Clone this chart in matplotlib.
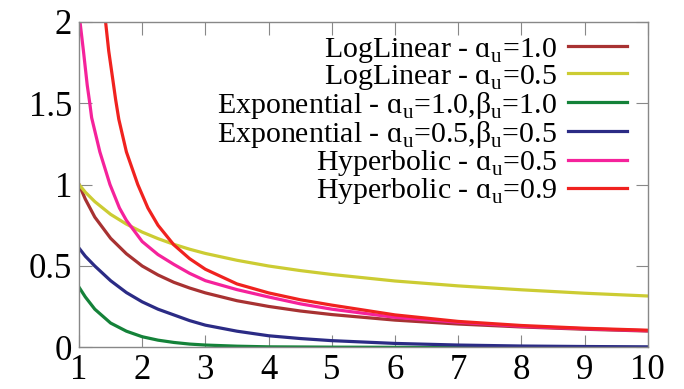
import matplotlib
matplotlib.use("Agg")
import matplotlib.pyplot as plt

# Discount curves read at sample points (x = time step)
x_common = [1, 1.1, 1.25, 1.5, 1.75, 2, 2.25, 2.5, 2.75, 3, 3.5, 4, 4.5, 5, 6, 7, 8, 9, 10]
loglin_10 = [1.0, 0.91, 0.80, 0.67, 0.575, 0.50, 0.445, 0.40, 0.365, 0.335, 0.287, 0.252, 0.224,
             0.202, 0.168, 0.144, 0.126, 0.112, 0.101]
loglin_05 = [1.0, 0.953, 0.895, 0.817, 0.757, 0.708, 0.668, 0.633, 0.603, 0.577, 0.535, 0.50,
             0.472, 0.448, 0.408, 0.378, 0.354, 0.333, 0.316]
expo_10 = [0.37, 0.31, 0.235, 0.15, 0.10, 0.066, 0.045, 0.031, 0.021, 0.015, 0.008, 0.004,
           0.003, 0.002, 0.001, 0.0, 0.0, 0.0, 0.0]
expo_05 = [0.61, 0.56, 0.50, 0.41, 0.337, 0.28, 0.235, 0.20, 0.165, 0.137, 0.10, 0.072,
           0.055, 0.042, 0.025, 0.015, 0.009, 0.006, 0.004]

x_hyp05 = [1.0, 1.07, 1.13, 1.17, 1.2, 1.33, 1.49, 1.64, 1.75, 2, 2.25, 2.5, 2.75, 3, 3.5, 4,
           4.5, 5, 6, 7, 8, 9, 10]
hyp_05 = [2.05, 1.82, 1.61, 1.5, 1.41, 1.2, 1.0, 0.856, 0.78, 0.65, 0.57, 0.51, 0.455, 0.41,
          0.355, 0.31, 0.268, 0.235, 0.185, 0.155, 0.13, 0.115, 0.103]
x_hyp09 = [1.42, 1.47, 1.54, 1.58, 1.63, 1.75, 1.93, 2.09, 2.25, 2.5, 2.75, 3, 3.5, 4, 4.5, 5,
           6, 7, 8, 9, 10]
hyp_09 = [2.0, 1.82, 1.63, 1.52, 1.40, 1.2, 1.0, 0.856, 0.75, 0.63, 0.545, 0.48, 0.39, 0.335,
          0.293, 0.26, 0.20, 0.16, 0.135, 0.118, 0.106]

x_ticks = [1, 2, 3, 4, 5, 6, 7, 8, 9, 10]
y_ticks = [0, 0.5, 1, 1.5, 2]
y_ticklabels = ["0", "0.5", "1", "1.5", "2"]

sub = r"$_{\mathregular{u}}$"
series = [
    (x_common, loglin_10, "LogLinear - ɑ" + sub + "=1.0", "#a83232"),
    (x_common, loglin_05, "LogLinear - ɑ" + sub + "=0.5", "#cccc33"),
    (x_common, expo_10, "Exponential - ɑ" + sub + "=1.0,β" + sub + "=1.0", "#148239"),
    (x_common, expo_05, "Exponential - ɑ" + sub + "=0.5,β" + sub + "=0.5", "#2b2b85"),
    (x_hyp05, hyp_05, "Hyperbolic - ɑ" + sub + "=0.5", "#f5229b"),
    (x_hyp09, hyp_09, "Hyperbolic - ɑ" + sub + "=0.9", "#f0221f"),
]

plt.rcParams["font.family"] = ["Liberation Serif", "DejaVu Serif"]
plt.rcParams["mathtext.fontset"] = "custom"
plt.rcParams["mathtext.rm"] = "Liberation Serif"

fig = plt.figure(figsize=(6.84, 3.89), dpi=100)
ax = fig.add_axes([0.1155, 0.1067, 0.8315, 0.838])

for xs, ys, label, color in series:
    ax.plot(xs, ys, color=color, lw=2.3, label=label, solid_joinstyle="round")

ax.set_xlim(1, 10)
ax.set_ylim(0, 2)
ax.set_xticks(x_ticks)
ax.set_yticks(y_ticks)
ax.set_yticklabels(y_ticklabels)

for s in ax.spines.values():
    s.set_color("#888888")
    s.set_linewidth(1.0)
ax.tick_params(direction="in", length=9, width=0.8, color="#888888",
               top=True, right=True, labelsize=25, pad=5)

# legend: text right-aligned, sample line after the text, rows packed tight
leg = ax.legend(loc="upper right", frameon=False, markerfirst=False,
                fontsize=21.5, handlelength=2.0, handletextpad=0.35,
                labelspacing=-0.065, borderaxespad=0.0,
                bbox_to_anchor=(0.985, 0.993))
for t in leg.get_texts():
    t.set_ha("right")
leg._legend_box.align = "right"

fig.savefig("out.png", dpi=100)
